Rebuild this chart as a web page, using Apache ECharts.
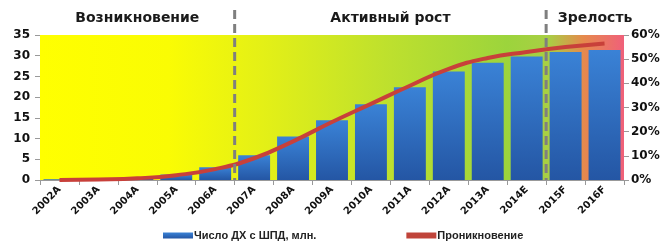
<!DOCTYPE html>
<html>
<head>
<meta charset="utf-8">
<script src="https://cdn.jsdelivr.net/npm/echarts@6/dist/echarts.min.js"></script>
<style>
  html, body { margin: 0; padding: 0; background: #fff; }
  #main { width: 672px; height: 247px; }
</style>
</head>
<body>
<div id="main"></div>
<script>
var years = ['2002A', '2003A', '2004A', '2005A', '2006A', '2007A', '2008A', '2009A',
  '2010A', '2011A', '2012A', '2013A', '2014E', '2015F', '2016F'];
// число домохозяйств с ШПД, млн
var households = [0.2, 0.3, 0.5, 1.3, 3.1, 6.0, 10.5, 14.4, 18.3, 22.4, 26.2, 28.3, 29.8, 30.9, 31.4];
// проникновение, %
var penetration = [0, 0.2, 0.7, 2, 4.5, 9, 16, 24, 31.5, 39, 46, 50.5, 53, 55, 56.5];
var phases = ['Возникновение', 'Активный рост', 'Зрелость'];
var phaseBreaks = [['2006A', '2007A'], ['2014E', '2015F']];

var font = 'DejaVu Sans';
var chart = echarts.init(document.getElementById('main'));

var option = {
  animation: false,
  textStyle: { fontFamily: font },
  grid: {
    left: 40, right: 48, top: 35, bottom: 67,
    show: true,
    borderWidth: 0,
    backgroundColor: new echarts.graphic.LinearGradient(0, 0, 1, 0, [
      { offset: 0, color: '#ffff00' },
      { offset: 0.22, color: '#fafc04' },
      { offset: 0.38, color: '#e4f016' },
      { offset: 0.6, color: '#bde02e' },
      { offset: 0.8, color: '#9cd43c' },
      { offset: 0.87, color: '#a8cf44' },
      { offset: 0.93, color: '#e58a4c' },
      { offset: 1, color: '#f0607a' }
    ])
  },
  legend: {
    bottom: 1,
    left: 158,
    itemGap: 90,
    itemWidth: 30,
    itemHeight: 6,
    textStyle: { fontFamily: 'Liberation Sans', fontSize: 11, fontWeight: 'bold', color: '#222', padding: [0, 0, 0, -4] },
    data: [
      { name: 'Число ДХ с ШПД, млн.', icon: 'rect' },
      { name: 'Проникновение', icon: 'rect' }
    ]
  },
  xAxis: {
    type: 'category',
    data: years,
    axisLine: { lineStyle: { color: '#999' } },
    axisTick: { show: true, alignWithLabel: false, lineStyle: { color: '#999' } },
    axisLabel: {
      rotate: 45, interval: 0, margin: 8,
      fontSize: 10, fontWeight: 'bold', color: '#111', fontFamily: font
    }
  },
  yAxis: [
    {
      type: 'value', min: 0, max: 35, interval: 5,
      splitLine: { show: false },
      axisLine: { show: false },
      axisTick: { show: true, lineStyle: { color: '#999' } },
      axisLabel: { fontSize: 12, fontWeight: 'bold', color: '#111', fontFamily: font, margin: 10 }
    },
    {
      type: 'value', min: 0, max: 60, interval: 10,
      splitLine: { show: false },
      axisLine: { show: false },
      axisTick: { show: true, lineStyle: { color: '#999' } },
      axisLabel: { formatter: '{value}%', fontSize: 12, fontWeight: 'bold', color: '#111', fontFamily: font, margin: 7 }
    }
  ],
  series: [
    {
      name: 'Число ДХ с ШПД, млн.',
      type: 'bar',
      barCategoryGap: '18%',
      data: households,
      itemStyle: {
        color: new echarts.graphic.LinearGradient(0, 0, 0, 1, [
          { offset: 0, color: '#3a82d6' },
          { offset: 1, color: '#2456a4' }
        ])
      }
    },
    {
      name: 'Проникновение',
      type: 'line',
      yAxisIndex: 1,
      smooth: true,
      showSymbol: false,
      data: penetration,
      itemStyle: { color: '#c0443a' },
      lineStyle: { color: '#c8403a', width: 4 }
    }
  ]
};
chart.setOption(option);

// фазы: пунктирные разделители и подписи
function midX(pair) {
  var a = chart.convertToPixel({ xAxisIndex: 0 }, pair[0]);
  var b = chart.convertToPixel({ xAxisIndex: 0 }, pair[1]);
  return (a + b) / 2;
}
var x1 = midX(phaseBreaks[0]);
var x2 = midX(phaseBreaks[1]);
var y0 = chart.convertToPixel({ yAxisIndex: 0 }, 0);
var left = 40, right = 672 - 48;
var graphics = [];
[x1, x2].forEach(function (x) {
  graphics.push({
    type: 'line', z: 100,
    shape: { x1: x, y1: 10, x2: x, y2: y0 },
    style: { stroke: '#7f7f7f', lineWidth: 3, lineDash: [9, 5] }
  });
});
var centers = [(left + x1) / 2, (x1 + x2) / 2, (x2 + right + 20) / 2];
phases.forEach(function (t, i) {
  graphics.push({
    type: 'text', z: 100,
    x: centers[i], y: 18,
    style: {
      text: t, align: 'center', verticalAlign: 'middle',
      font: 'bold 14px "' + font + '"', fill: '#1a1a1a'
    }
  });
});
chart.setOption({ graphic: graphics });
</script>
</body>
</html>
